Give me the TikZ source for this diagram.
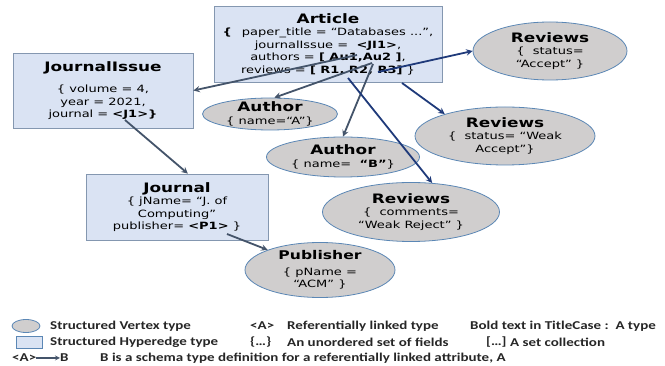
\documentclass[tikz,border=0pt]{standalone}
\usepackage{fontspec}
\setmainfont[FakeStretch=1.3]{DejaVu Sans}
\newfontfamily\keyfont[FakeStretch=1.25]{Carlito}
\usepackage{tikz}
\usetikzlibrary{shapes.geometric, positioning, arrows}

\definecolor{edgefill}{HTML}{DAE3F3}
\definecolor{edgeline}{HTML}{8497B0}
\definecolor{vertfill}{HTML}{D0CECE}
\definecolor{vertline}{HTML}{5B87B5}
\definecolor{refline}{HTML}{44546A}
\definecolor{revline}{HTML}{1F3A7A}

\newcommand{\ttl}[1]{{\fontsize{13}{15}\selectfont\bfseries #1}}

\begin{document}
\begin{tikzpicture}[x=1pt, y=-1pt,
    body/.style={align=center, font=\fontsize{10}{12.5}\selectfont},
    hedge/.style n args={2}{body, draw=edgeline, fill=edgefill, line width=0.8pt,
        minimum width=#1, minimum height=#2, inner sep=1pt},
    vert/.style n args={2}{body, ellipse, draw=vertline, fill=vertfill, line width=0.8pt,
        minimum width=#1, minimum height=#2, inner xsep=0pt, inner ysep=-4pt},
    refarrow/.style={-stealth, draw=refline, line width=1.8pt},
    revarrow/.style={-stealth, draw=revline, line width=1.8pt},
    keytext/.style={anchor=west, inner sep=0pt, text=black!85,
        font=\keyfont\bfseries\fontsize{12}{14}\selectfont}]
    \useasboundingbox (0,0) rectangle (665,366);

    % hyperedges
    \node[hedge={228}{76}] (article) at (328,44)
        {\ttl{Article}\\ \textbf{\{}\quad paper\_title = “Databases ...”,\\
         journalIssue =\ \ \textbf{<JI1>},\\ authors = \textbf{[ Au1,Au2 ]},\\
         reviews = \textbf{[ R1, R2, R3]} \}};
    \node[hedge={180}{75}] (issue) at (103,90.5)
        {\ttl{JournalIssue}\\[9pt] \{ volume = 4,\\ year = 2021,\\ journal = \textbf{<J1>\}}};
    \node[hedge={182}{66}] (journal) at (177,207)
        {\ttl{Journal}\\ \{ jName= “J. of\\ Computing”\\ publisher= \textbf{<P1>} \}};

    % vertices
    \node[vert={154}{58}] (accept) at (550,51) {\ttl{Reviews}\\ \{\ \ status=\\ “Accept” \}};
    \node[vert={135}{32}] (authA) at (270,114) {\ttl{Author}\\ \{ name=“A”\}};
    \node[vert={180}{58}] (weakacc) at (505,136) {\ttl{Reviews}\\ \{\ \ status= “Weak\\ Accept”\}};
    \node[vert={153}{40}] (authB) at (343,157) {\ttl{Author}\\ \{ name=\ \ \textbf{“B”}\}};
    \node[vert={177}{59}] (weakrej) at (411,212) {\ttl{Reviews}\\ \{\ \ comments=\\ “Weak Reject” \}};
    \node[vert={150}{55}] (publisher) at (320,270)
        {{\fontsize{12}{14}\selectfont\bfseries Publisher}\\[3pt] \{ pName =\\ “ACM” \}};

    % reference points inside the records
    \coordinate (ji1) at (357,55);
    \coordinate (au1) at (372,63);
    \coordinate (au2) at (373,64);
    \coordinate (rv1) at (378,72);
    \coordinate (rv2) at (402,83);
    \coordinate (rv3) at (348,78);
    \coordinate (j1) at (125,120);
    \coordinate (p1) at (227,234);

    \draw[refarrow] (ji1) -- (issue.east);
    \draw[refarrow] (au1) -- (authA.75);
    \draw[refarrow] (au2) -- (authB.north);
    \draw[revarrow] (rv1) -- (accept.west);
    \draw[revarrow] (rv2) -- (weakacc.160);
    \draw[revarrow] (rv3) -- (weakrej.54);
    \draw[refarrow] (j1) -- (journal.72);
    \draw[refarrow] (p1) -- (publisher.159);

    % legend
    \node[ellipse, draw=vertline, fill=vertfill, line width=0.8pt, minimum width=28, minimum height=13, inner sep=0pt] (keyvert) at (26,326) {};
    \node[draw=vertline, fill=edgefill, line width=0.8pt, minimum width=26, minimum height=12, inner sep=0pt] (keyedge) at (29,342) {};
    \node[keytext] (keyvtxt) at (50,326) {Structured Vertex type};
    \node[keytext] (keyetxt) at (50,342) {Structured Hyperedge type};
    \node[keytext] (keyref) at (250,326) {<A>};
    \node[keytext] (keyreftxt) at (287,326) {Referentially linked type};
    \node[keytext] (keyset) at (250,342) {\{…\}};
    \node[keytext] (keysettxt) at (287,342) {An unordered set of fields};
    \node[keytext] (keybold) at (470,326) {Bold text in TitleCase :\ \ A type};
    \node[keytext] (keycoll) at (486,342) {[…]};
    \node[keytext] (keycolltxt) at (510,342) {A set collection};
    \node[keytext] (keyA) at (12,358) {<A>};
    \node[keytext] (keyB) at (60,358) {B};
    \node[keytext] (keyschema) at (100,358) {B is a schema type definition for a referentially linked attribute, A};
    \draw[-stealth, draw=refline, line width=1.2pt] (keyA) -- (keyB);
\end{tikzpicture}
\end{document}
